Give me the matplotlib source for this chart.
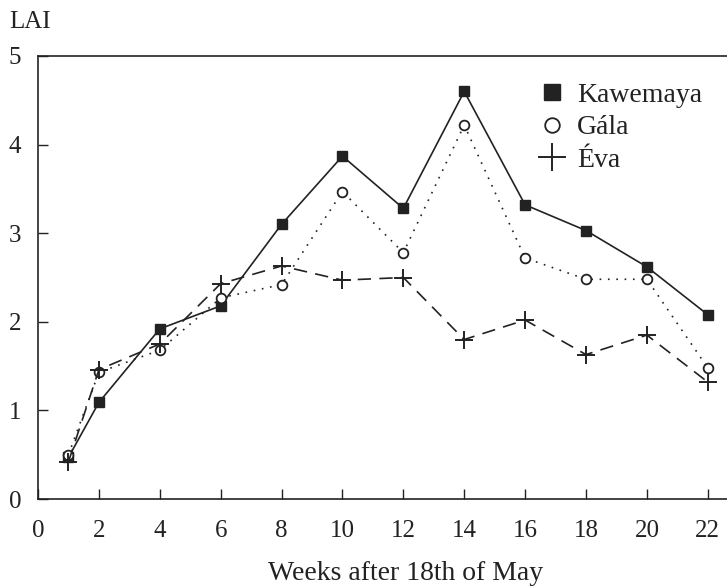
# -*- coding: utf-8 -*-
# LAI of three varieties over the season
import matplotlib
matplotlib.use("Agg")
import matplotlib.pyplot as plt

plt.rcParams['font.family'] = ['Liberation Serif', 'DejaVu Serif']

weeks = [1, 2, 4, 6, 8, 10, 12, 14, 16, 18, 20, 22]
kawemaya = [0.47, 1.09, 1.92, 2.18, 3.10, 3.87, 3.28, 4.60, 3.32, 3.03, 2.62, 2.08]
gala = [0.50, 1.43, 1.68, 2.27, 2.42, 3.47, 2.78, 4.22, 2.72, 2.48, 2.48, 1.48]
eva = [0.42, 1.46, 1.75, 2.43, 2.63, 2.47, 2.50, 1.80, 2.02, 1.63, 1.85, 1.32]

xticks = list(range(0, 23, 2))
yticks = [0, 1, 2, 3, 4, 5]

ink = '#222222'

fig = plt.figure(figsize=(7.27, 5.88), dpi=100)
ax = fig.add_axes([38/727, 1-499/588, 1-38/727, (499-56)/588])

ax.plot(weeks, kawemaya, '-', color=ink, lw=1.2, marker='s', ms=7.5,
        mfc=ink, mec=ink, label='Kawemaya')
ax.plot(weeks, gala, color=ink, lw=1.2, ls=(0, (1, 4)), marker='o', ms=7,
        mfc='white', mec=ink, mew=1.3, label=u'Gála')
ax.plot(weeks, eva, color=ink, lw=1.2, ls=(0, (8, 5)), marker='+', ms=13,
        mew=1.4, label=u'Éva')

ax.set_xlim(0, (727-39)/30.4)
ax.set_ylim(0, 5)
ax.set_xticks(xticks)
ax.set_yticks(yticks)
ax.tick_params(direction='in', length=7.5, width=1, colors=ink,
               labelsize=18)
ax.tick_params(axis='y', pad=12)
ax.tick_params(axis='x', pad=15)
ax.spines['right'].set_visible(False)
for s in ['left', 'bottom', 'top']:
    ax.spines[s].set_linewidth(1.2)
    ax.spines[s].set_color(ink)

fig.text(406/727, 1-574/588, 'Weeks after 18th of May', fontsize=20,
         color=ink, ha='center', va='center')
fig.text(9/727, 1-22/588, 'LAI', fontsize=18, color=ink, va='center')

leg = ax.legend(loc='upper left', bbox_to_anchor=(0.73, 0.965), frameon=False,
                handlelength=0, handletextpad=0.9, labelspacing=0.25,
                fontsize=20, borderaxespad=0, markerscale=1.5)
for t in leg.get_texts():
    t.set_color(ink)

fig.savefig('out.png', dpi=100)
